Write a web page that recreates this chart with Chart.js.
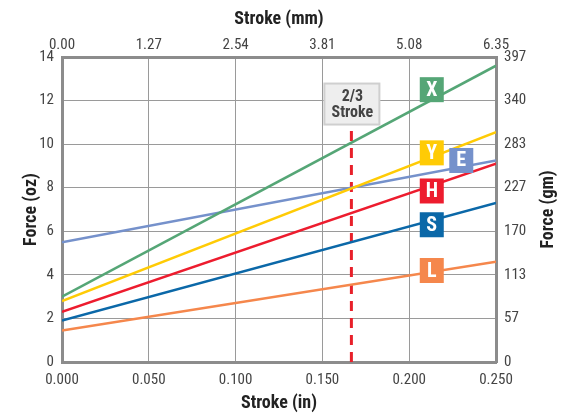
<!DOCTYPE html>
<html>
<head>
<meta charset="utf-8">
<script src="https://cdn.jsdelivr.net/npm/chart.js@4"></script>
<style>
  html, body { margin: 0; padding: 0; background: #fff; }
  #wrap { width: 566px; height: 414px; }
</style>
</head>
<body>
<div id="wrap"><canvas id="myChart" width="566" height="414"></canvas></div>
<script>
// stroke in inches, force in oz
var strokeIn = [0, 0.25];
var seriesNames = ["X", "Y", "E", "H", "S", "L"];
var forceX = [3.0, 13.6];
var forceY = [2.8, 10.55];
var forceE = [5.5, 9.25];
var forceH = [2.3, 9.1];
var forceS = [1.9, 7.3];
var forceL = [1.45, 4.6];
var seriesColors = ["#55a676", "#ffcb05", "#7591cb", "#ed1c2e", "#0b68a8", "#f5874c"];
// where the letter badges sit (in, oz)
var badgeX = [0.213, 0.213, 0.230, 0.213, 0.213, 0.213];
var badgeY = [12.5, 9.6, 9.25, 7.85, 6.3, 4.2];
// 2/3 stroke marker
var markX = 0.1667;
var markTop = 10.9;

// Roboto has a condensed face, picked with the stretch keyword
var font = "Roboto, 'DejaVu Sans Condensed', sans-serif";
var allForce = [forceX, forceY, forceE, forceH, forceS, forceL];

var datasets = seriesNames.map(function (n, i) {
    return {
        label: n,
        data: strokeIn.map(function (x, j) { return { x: x, y: allForce[i][j] }; }),
        borderColor: seriesColors[i],
        borderWidth: 2.5,
        pointRadius: 0,
        xAxisID: 'x',
        yAxisID: 'y'
    };
});
datasets.push({
    label: '2/3',
    data: [{ x: markX, y: 0 }, { x: markX, y: markTop }],
    borderColor: '#e8202a',
    borderWidth: 3,
    borderDash: [10, 7],
    pointRadius: 0,
    xAxisID: 'x',
    yAxisID: 'y'
});

var overlay = {
    id: 'overlay',
    afterDatasetsDraw: function (chart) {
        var c = chart.ctx, xs = chart.scales.x, ys = chart.scales.y;
        c.save();
        // badges
        seriesNames.forEach(function (n, i) {
            var px = xs.getPixelForValue(badgeX[i]), py = ys.getPixelForValue(badgeY[i]);
            c.fillStyle = seriesColors[i];
            c.fillRect(px - 12, py - 12.5, 24, 25);
            c.fillStyle = '#fff';
            c.font = "bold condensed 20px " + font;
            c.textAlign = 'center';
            c.textBaseline = 'middle';
            c.fillText(n, px, py + 1);
        });
        // 2/3 stroke box
        var bx = xs.getPixelForValue(markX), by = ys.getPixelForValue(markTop);
        c.fillStyle = '#eeeeee';
        c.strokeStyle = '#cfcfcf';
        c.lineWidth = 2;
        c.fillRect(bx - 27, by - 41, 55, 41);
        c.strokeRect(bx - 27, by - 41, 55, 41);
        c.fillStyle = '#444';
        c.font = "bold condensed 16px " + font;
        c.textAlign = 'center';
        c.textBaseline = 'middle';
        c.fillText('2/3', bx + 1, by - 28);
        c.fillText('Stroke', bx + 1, by - 12);
        // right axis title, reading upward
        c.translate(548, (chart.chartArea.top + chart.chartArea.bottom) / 2);
        c.rotate(-Math.PI / 2);
        c.fillStyle = '#222';
        c.font = "bold condensed 18px " + font;
        c.fillText('Force (gm)', 0, 0);
        c.restore();
    }
};

var tickFont = { family: font, size: 15, weight: 'condensed' };
var titleFont = { family: font, size: 18, weight: 'bold condensed' };
var gridColor = '#9a9a9a';
var borderStyle = { color: '#8c8c8c', width: 3 };

var ctx = document.getElementById('myChart').getContext('2d');
var myChart = new Chart(ctx, {
    type: 'line',
    data: { datasets: datasets },
    plugins: [overlay],
    options: {
        responsive: false,
        animation: false,
        layout: { padding: 0 },
        plugins: { legend: { display: false }, tooltip: { enabled: false } },
        scales: {
            x: {
                type: 'linear', position: 'bottom', min: 0, max: 0.25,
                ticks: { stepSize: 0.05, color: '#444', font: tickFont, padding: 9,
                    callback: function (v) { return v.toFixed(3); } },
                grid: { color: gridColor, lineWidth: 1, drawTicks: false },
                border: borderStyle,
                title: { display: true, text: 'Stroke (in)', color: '#222', font: titleFont, padding: { top: 0, bottom: 0 } },
                afterFit: function (s) { s.height = 52; }
            },
            x2: {
                type: 'linear', position: 'top', min: 0, max: 0.25,
                ticks: { stepSize: 0.05, color: '#444', font: tickFont, padding: 3,
                    callback: function (v) { return (v * 25.4).toFixed(2); } },
                grid: { display: false, drawTicks: false },
                border: borderStyle,
                title: { display: true, text: 'Stroke (mm)', color: '#222', font: titleFont, padding: { top: 9, bottom: 2 } },
                afterFit: function (s) { s.height = 57; }
            },
            y: {
                type: 'linear', position: 'left', min: 0, max: 14,
                ticks: { stepSize: 2, color: '#444', font: tickFont, padding: 8 },
                grid: { color: gridColor, lineWidth: 1, drawTicks: false },
                border: borderStyle,
                title: { display: true, text: 'Force (oz)', color: '#222', font: titleFont, padding: { top: 21, bottom: 4 } },
                afterFit: function (s) { s.width = 62; }
            },
            y2: {
                type: 'linear', position: 'right', min: 0, max: 14,
                ticks: { stepSize: 2, color: '#444', font: tickFont, padding: 8,
                    callback: function (v) { return Math.round(v * 28.3495); } },
                grid: { display: false, drawTicks: false },
                border: borderStyle,
                afterFit: function (s) { s.width = 70; }
            }
        }
    }
});
</script>
</body>
</html>
